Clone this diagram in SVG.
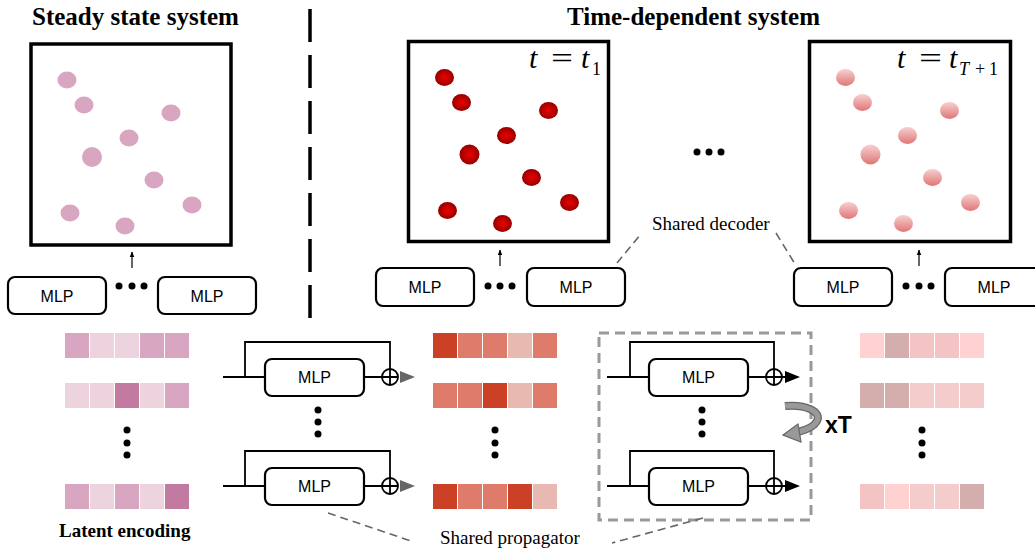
<svg xmlns="http://www.w3.org/2000/svg" width="1035" height="548" viewBox="0 0 1035 548">
<style>
.title{font-family:"Liberation Serif",serif;font-weight:bold;font-size:25px;fill:#000}
.lbl{font-family:"Liberation Serif",serif;font-size:19px;fill:#000}
.lblb{font-family:"Liberation Serif",serif;font-weight:bold;font-size:19px;fill:#000}
.math{font-family:"Liberation Serif",serif;font-style:italic;font-size:30px;fill:#000}
.mathr{font-family:"Liberation Serif",serif;font-size:30px;fill:#000}
.sub{font-family:"Liberation Serif",serif;font-size:18px;fill:#000}
.mlp{font-family:"Liberation Sans",Arial,sans-serif;font-size:16px;fill:#000;text-anchor:middle}
.xt{font-family:"Liberation Sans",Arial,sans-serif;font-size:23px;font-weight:bold;fill:#000}
.frame{fill:#fff;stroke:#000;stroke-width:3.5}
.box{fill:#fff;stroke:#000;stroke-width:2.2}
.wire{fill:none;stroke:#000;stroke-width:1.8}
.thin{fill:none;stroke:#000;stroke-width:1.2}
.dash{fill:none;stroke:#666;stroke-width:1.6;stroke-dasharray:8 5}
.pA{fill:#d8a6c1}
.pB{fill:#ecd3de}
.pC{fill:#c27aa1}
.rA{fill:#cc4125}
.rB{fill:#de7b6b}
.rC{fill:#e8b9b0}
.qA{fill:#ffd1d1}
.qB{fill:#d4adad}
.qC{fill:#f4c4c4}
.qD{fill:#f4cccc}
</style>
<defs>
<radialGradient id="gRed" cx="50%" cy="50%" r="55%">
<stop offset="0" stop-color="#ee0000"/>
<stop offset="1" stop-color="#8e0000"/>
</radialGradient>
<linearGradient id="gPink" x1="0" y1="0" x2="0" y2="1">
<stop offset="0" stop-color="#f8d0d0"/>
<stop offset="1" stop-color="#df7676"/>
</linearGradient>
<marker id="ah" viewBox="0 0 10 10" refX="9" refY="5" markerWidth="5" markerHeight="5" orient="auto">
<path d="M0,1 L10,5 L0,9 z" fill="#000"/>
</marker>
<g id="dots">
<ellipse cx="36" cy="36" rx="9.5" ry="8.5"/>
<ellipse cx="53" cy="61" rx="9.5" ry="8.5"/>
<ellipse cx="140" cy="69" rx="9.5" ry="8.5"/>
<ellipse cx="98" cy="94" rx="9.5" ry="8.5"/>
<ellipse cx="61" cy="113" rx="10" ry="10"/>
<ellipse cx="123" cy="136" rx="9.5" ry="8.5"/>
<ellipse cx="161" cy="161" rx="9.5" ry="8.5"/>
<ellipse cx="39" cy="169" rx="9.5" ry="8.5"/>
<ellipse cx="94" cy="182" rx="9.5" ry="8.5"/>
</g>
</defs>
<rect width="1035" height="548" fill="#fff"/>

<g id="titles">
<text class="title" x="32" y="25">Steady state system</text>
<text class="title" x="567" y="25">Time-dependent system</text>
</g>

<g id="divider">
<line x1="310" y1="9" x2="310" y2="318" stroke="#000" stroke-width="3.5" stroke-dasharray="33 13"/>
</g>

<g id="steady-frame">
<rect class="frame" x="31" y="44" width="200" height="201"/>
<use href="#dots" x="31" y="44" fill="#d8a6c1"/>
</g>

<g id="frame-t1">
<rect class="frame" x="408.5" y="41.5" width="200" height="200"/>
<use href="#dots" x="408.5" y="41.5" fill="url(#gRed)"/>
<text class="math" x="529" y="68">t</text>
<text class="mathr" x="551" y="68" textLength="22" lengthAdjust="spacingAndGlyphs">=</text>
<text class="math" x="581" y="68">t</text>
<text class="sub" x="592" y="75">1</text>
</g>

<g id="frame-tT1">
<rect class="frame" x="809.5" y="41.5" width="201" height="200"/>
<use href="#dots" x="809.5" y="41.5" fill="url(#gPink)"/>
<text class="math" x="897" y="68">t</text>
<text class="mathr" x="919" y="68" textLength="23" lengthAdjust="spacingAndGlyphs">=</text>
<text class="math" x="949" y="68">t</text>
<text class="sub" x="959" y="75"><tspan font-style="italic">T</tspan><tspan x="975">+</tspan><tspan x="989">1</tspan></text>
</g>

<g id="ellipsis-frames">
<circle cx="697" cy="152" r="3.5"/>
<circle cx="709" cy="152" r="3.5"/>
<circle cx="721" cy="152" r="3.5"/>
</g>

<g id="decoder-steady">
<rect class="box" x="8" y="277" width="98" height="37" rx="7"/>
<text class="mlp" x="57" y="302">MLP</text>
<rect class="box" x="158" y="277" width="98" height="37" rx="7"/>
<text class="mlp" x="207" y="302">MLP</text>
<circle cx="119" cy="286" r="3.5"/><circle cx="132" cy="286" r="3.5"/><circle cx="144" cy="286" r="3.5"/>
</g>

<g id="decoder-t1">
<rect class="box" x="376" y="268" width="98" height="38" rx="7"/>
<text class="mlp" x="425" y="293">MLP</text>
<rect class="box" x="527" y="268" width="98" height="38" rx="7"/>
<text class="mlp" x="576" y="293">MLP</text>
<circle cx="488" cy="286" r="3.5"/><circle cx="500" cy="286" r="3.5"/><circle cx="512" cy="286" r="3.5"/>
</g>

<g id="decoder-tT1">
<rect class="box" x="794" y="268" width="98" height="38" rx="7"/>
<text class="mlp" x="843" y="293">MLP</text>
<rect class="box" x="945" y="268" width="98" height="38" rx="7"/>
<text class="mlp" x="994" y="293">MLP</text>
<circle cx="906" cy="286" r="3.5"/><circle cx="919" cy="286" r="3.5"/><circle cx="931" cy="286" r="3.5"/>
</g>

<g id="shared-decoder-label">
<text class="lbl" x="652" y="230">Shared decoder</text>
</g>

<g id="latent-encoding">
<rect class="pA" x="65" y="333" width="24" height="25"/><rect class="pB" x="90" y="333" width="24" height="25"/><rect class="pB" x="115" y="333" width="24" height="25"/><rect class="pA" x="140" y="333" width="24" height="25"/><rect class="pA" x="165" y="333" width="24" height="25"/>
<rect class="pB" x="65" y="383" width="24" height="25"/><rect class="pB" x="90" y="383" width="24" height="25"/><rect class="pC" x="115" y="383" width="24" height="25"/><rect class="pB" x="140" y="383" width="24" height="25"/><rect class="pA" x="165" y="383" width="24" height="25"/>
<rect class="pA" x="65" y="484" width="24" height="25"/><rect class="pB" x="90" y="484" width="24" height="25"/><rect class="pA" x="115" y="484" width="24" height="25"/><rect class="pB" x="140" y="484" width="24" height="25"/><rect class="pC" x="165" y="484" width="24" height="25"/>
<circle cx="127" cy="430" r="3.5"/><circle cx="127" cy="443" r="3.5"/><circle cx="127" cy="455" r="3.5"/>
<text class="lblb" x="59" y="537">Latent encoding</text>
</g>

<g id="encoding-t1">
<rect class="rA" x="433" y="333" width="24" height="25"/><rect class="rB" x="458" y="333" width="24" height="25"/><rect class="rB" x="483" y="333" width="24" height="25"/><rect class="rC" x="508" y="333" width="24" height="25"/><rect class="rB" x="533" y="333" width="24" height="25"/>
<rect class="rB" x="433" y="383" width="24" height="25"/><rect class="rB" x="458" y="383" width="24" height="25"/><rect class="rA" x="483" y="383" width="24" height="25"/><rect class="rC" x="508" y="383" width="24" height="25"/><rect class="rB" x="533" y="383" width="24" height="25"/>
<rect class="rA" x="433" y="484" width="24" height="25"/><rect class="rB" x="458" y="484" width="24" height="25"/><rect class="rB" x="483" y="484" width="24" height="25"/><rect class="rA" x="508" y="484" width="24" height="25"/><rect class="rC" x="533" y="484" width="24" height="25"/>
<circle cx="495" cy="430" r="3.5"/><circle cx="495" cy="443" r="3.5"/><circle cx="495" cy="455" r="3.5"/>
</g>

<g id="encoding-tT1">
<rect class="qA" x="860" y="333" width="24" height="25"/><rect class="qB" x="885" y="333" width="24" height="25"/><rect class="qC" x="910" y="333" width="24" height="25"/><rect class="qC" x="935" y="333" width="24" height="25"/><rect class="qA" x="960" y="333" width="24" height="25"/>
<rect class="qB" x="860" y="383" width="24" height="25"/><rect class="qB" x="885" y="383" width="24" height="25"/><rect class="qD" x="910" y="383" width="24" height="25"/><rect class="qD" x="935" y="383" width="24" height="25"/><rect class="qD" x="960" y="383" width="24" height="25"/>
<rect class="qC" x="860" y="484" width="24" height="25"/><rect class="qA" x="885" y="484" width="24" height="25"/><rect class="qD" x="910" y="484" width="24" height="25"/><rect class="qD" x="935" y="484" width="24" height="25"/><rect class="qB" x="960" y="484" width="24" height="25"/>
<circle cx="922" cy="430" r="3.5"/><circle cx="922" cy="443" r="3.5"/><circle cx="922" cy="455" r="3.5"/>
</g>

<g id="propagator-1">
<rect class="box" x="265" y="359" width="99" height="37" rx="7"/>
<text class="mlp" x="314.5" y="383">MLP</text>
<rect class="box" x="265" y="468" width="99" height="37" rx="7"/>
<text class="mlp" x="314.5" y="492">MLP</text>
<circle cx="318" cy="410" r="3.5"/><circle cx="318" cy="422" r="3.5"/><circle cx="318" cy="434" r="3.5"/>
</g>

<g id="propagator-2">
<rect x="599" y="333" width="212" height="187" fill="none" stroke="#999" stroke-width="3" stroke-dasharray="10 6"/>
<rect class="box" x="649" y="359" width="99" height="37" rx="7"/>
<text class="mlp" x="698.5" y="383">MLP</text>
<rect class="box" x="649" y="468" width="99" height="37" rx="7"/>
<text class="mlp" x="698.5" y="492">MLP</text>
<circle cx="702" cy="410" r="3.5"/><circle cx="702" cy="422" r="3.5"/><circle cx="702" cy="434" r="3.5"/>
<g id="repeat-arrow">
<path d="M785 406 C 806 404, 822 412, 817 421 C 814 427, 806 430, 798 432" fill="none" stroke="#666" stroke-width="8"/>
<path d="M785 406 C 806 404, 822 412, 817 421 C 814 427, 806 430, 798 432" fill="none" stroke="#999" stroke-width="5.5"/>
<polygon points="783,435 798,424 801,442" fill="#999" stroke="#666" stroke-width="1.2"/>
</g>
<text class="xt" x="825" y="433">xT</text>
</g>

<g id="shared-propagator-label">
<text class="lbl" x="440" y="544">Shared propagator</text>
</g>

<g id="connectors">
<line class="thin" x1="132" y1="268" x2="132" y2="252" marker-end="url(#ah)"/>
<line class="thin" x1="500" y1="266" x2="500" y2="250" marker-end="url(#ah)"/>
<line class="thin" x1="919" y1="266" x2="919" y2="250" marker-end="url(#ah)"/>
<line class="dash" x1="617" y1="263" x2="641" y2="234"/>
<line class="dash" x1="776" y1="233" x2="795" y2="264"/>
<line class="dash" x1="328" y1="513" x2="414" y2="542"/>
<line class="dash" x1="703" y1="518" x2="612" y2="543"/>
<path class="wire" d="M223 377 H265 M245 377 V342 H390 V385 M364 377 H398"/>
<circle cx="390" cy="377" r="8" fill="none" stroke="#000" stroke-width="1.8"/>
<polygon points="400,371 415,377 400,383" fill="#666"/>
<path class="wire" d="M223 486 H265 M245 486 V451 H390 V494 M364 486 H398"/>
<circle cx="390" cy="486" r="8" fill="none" stroke="#000" stroke-width="1.8"/>
<polygon points="400,480 415,486 400,492" fill="#666"/>
<path class="wire" d="M607 377 H649 M630 377 V342 H774 V385 M748 377 H788"/>
<circle cx="774" cy="377" r="8" fill="none" stroke="#000" stroke-width="1.8"/>
<polygon points="785,371 800,377 785,383" fill="#000"/>
<path class="wire" d="M607 486 H649 M630 486 V451 H774 V494 M748 486 H788"/>
<circle cx="774" cy="486" r="8" fill="none" stroke="#000" stroke-width="1.8"/>
<polygon points="785,480 800,486 785,492" fill="#000"/>
</g>
</svg>
